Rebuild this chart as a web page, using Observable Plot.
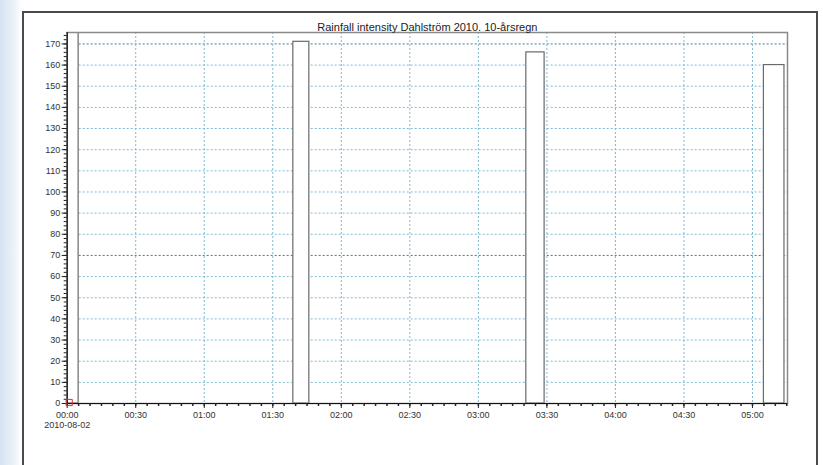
<!DOCTYPE html>
<html>
<head>
<meta charset="utf-8">
<script src="https://cdn.jsdelivr.net/npm/d3@7"></script>
<script src="https://cdn.jsdelivr.net/npm/@observablehq/plot@0.6"></script>
<style>
  html, body { margin: 0; padding: 0; width: 823px; height: 465px; overflow: hidden; }
  body { background: linear-gradient(to right, #d6e2f1 0px, #e8eff8 12px, #ffffff 22px); position: relative; font-family: "Liberation Sans", Arial, sans-serif; }
  #frame { position: absolute; left: 22px; top: 11px; width: 792px; height: 520px; border: 2px solid #4a4a4a; background: #fff; }
  #chart { position: absolute; left: 0; top: 0; }
</style>
</head>
<body>
<div id="frame"></div>
<div id="chart"></div>
<script>
const title = "Rainfall intensity Dahlström 2010. 10-årsregn";
const dateLabel = "2010-08-02";
const barStart = ["00:00", "01:39", "03:21", "05:05"];
const barEnd   = ["00:05", "01:46", "03:29", "05:14"];
const barValue = [180, 171, 166, 160];
const yTicks = [0, 10, 20, 30, 40, 50, 60, 70, 80, 90, 100, 110, 120, 130, 140, 150, 160, 170];
const yStrong = [70, 170];
const xTickLabels = ["00:00", "00:30", "01:00", "01:30", "02:00", "02:30", "03:00", "03:30", "04:00", "04:30", "05:00"];
const xDomain = ["00:00:00", "05:15:20"];
const yDomain = [0, 175.4];

const day = "2010-08-02T";
const t = s => new Date(day + (s.length === 5 ? s + ":00" : s) + "Z");

const bars = barStart.map((s, i) => ({x1: t(s), x2: t(barEnd[i]), v: barValue[i]}));
const xMajor = xTickLabels.map(t);
const xMinor = d3.utcMinute.every(5).range(t(xDomain[0]), t(xDomain[1]));
const yMinor = d3.range(0, 176, 2);
const yLight = yTicks.filter(v => !yStrong.includes(v));

const chart = Plot.plot({
  width: 823,
  height: 465,
  marginLeft: 66.7,
  marginRight: 36,
  marginTop: 32,
  marginBottom: 62,
  style: {fontFamily: "'Liberation Sans', Arial, sans-serif", fontSize: "9px", background: "transparent", color: "#333"},
  x: {type: "utc", domain: xDomain.map(t)},
  y: {domain: yDomain},
  marks: [
    Plot.ruleY(yLight, {stroke: "#7dbbd3", strokeDasharray: "2,2", strokeWidth: 1}),
    Plot.ruleY(yStrong, {stroke: "#3a7d9c", strokeDasharray: "2,2", strokeWidth: 1}),
    Plot.ruleX(xMajor.slice(1), {stroke: "#7dbbd3", strokeDasharray: "2,2", strokeWidth: 1}),
    Plot.rect(bars, {x1: "x1", x2: "x2", y1: 0, y2: "v", fill: "white", stroke: "#6a6a6a", strokeWidth: 1.2, clip: true}),
    Plot.frame({stroke: "#8a8a8a", strokeWidth: 1.5}),
    Plot.ruleY([0], {stroke: "#111", strokeWidth: 1.2}),
    Plot.ruleX([t(xDomain[0])], {stroke: "#111", strokeWidth: 1.2}),
    Plot.axisY(yTicks, {anchor: "left", tickSize: 5, tickPadding: 2, stroke: "#222", fill: "#333", label: null}),
    Plot.axisY(yMinor, {anchor: "left", tickSize: 3, text: null, stroke: "#222", label: null}),
    Plot.axisX(xMajor, {anchor: "bottom", tickSize: 5, tickPadding: 3, stroke: "#222", fill: "#333", tickFormat: d3.utcFormat("%H:%M"), label: null}),
    Plot.axisX(xMinor, {anchor: "bottom", tickSize: 3, text: null, stroke: "#222", strokeWidth: 1.5, label: null}),
    Plot.text([dateLabel], {x: () => t(xDomain[0]), frameAnchor: "bottom", dy: 24, fill: "#333", fontSize: 9}),
    Plot.dot([0], {x: () => t(xDomain[0]), y: 0, symbol: "square", r: 3.5, dx: 2, dy: -1, stroke: "#e03030", fill: "none", strokeWidth: 1}),
    Plot.text([title], {frameAnchor: "top", dy: -9, fill: "#222", fontSize: 11})
  ]
});
document.getElementById("chart").append(chart);
</script>
</body>
</html>
